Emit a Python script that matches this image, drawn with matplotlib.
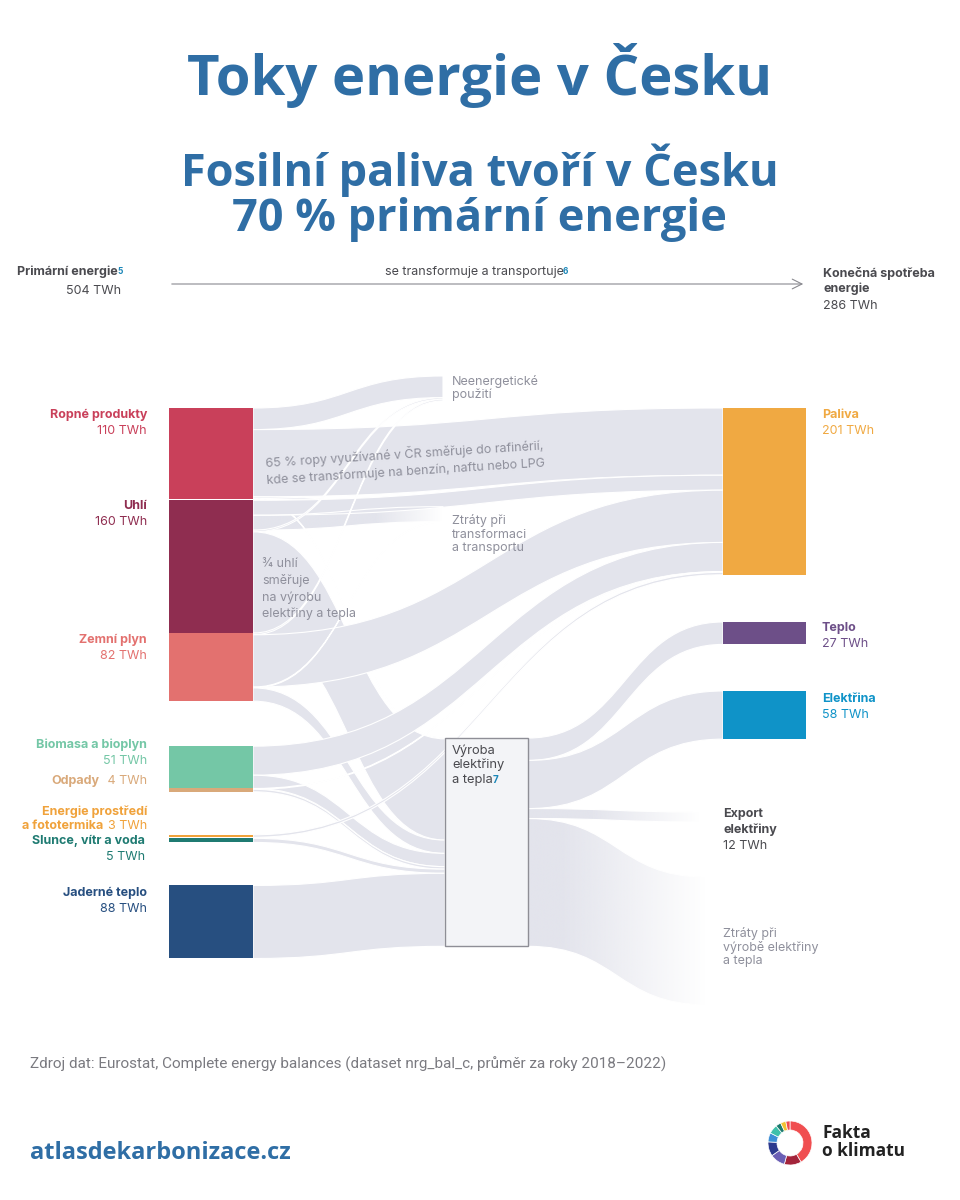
import numpy as np
import matplotlib.pyplot as plt
from matplotlib.path import Path
from matplotlib.patches import PathPatch, Rectangle, Wedge
from matplotlib.colors import to_rgb

# ---- data (TWh, averages 2018-2022) ----
src_keys = ["ropa", "uhli", "plyn", "bio", "odpady", "prostredi", "slunce", "jadro"]
src_twh = [110, 160, 82, 51, 4, 3, 5, 88]
dst_keys = ["paliva", "teplo", "elektrina"]
dst_twh = [201, 27, 58]

link_src = ["ropa", "ropa", "ropa", "ropa",
            "uhli", "uhli", "uhli", "uhli",
            "plyn", "plyn", "plyn", "plyn",
            "bio", "bio", "odpady", "odpady", "prostredi", "slunce", "jadro",
            "vyroba", "vyroba", "vyroba", "vyroba"]
link_dst = ["neen", "paliva", "ztraty_t", "vyroba",
            "paliva", "ztraty_t", "neen", "vyroba",
            "neen", "paliva", "ztraty_t", "vyroba",
            "paliva", "vyroba", "paliva", "vyroba", "paliva", "vyroba", "vyroba",
            "teplo", "elektrina", "export", "ztraty_v"]
link_twh = [26, 81, 2, 1,
            18, 18, 2, 122,
            2, 63, 1, 16,
            35, 16, 1, 3, 3, 5, 88,
            27, 58, 12, 154]

# ---- layout ----
W, H = 960, 1200
K = 0.83                      # px per TWh
BAND = "#e3e4ec"
fig = plt.figure(figsize=(9.6, 12), dpi=100)
ax = fig.add_axes([0, 0, 1, 1])

src_gap = [0, 1, 0, 45, 0, 43, 1, 43]
src_col = ["#c9405a", "#8f2d50", "#e3716f", "#74c7a6", "#d9a97a", "#f0a23b", "#1f7b72", "#274f80"]
dst_col = ["#f0a942", "#6d4f88", "#0f93c8"]

nodes = {}   # key -> [x_left, x_right, y_top]
y = 408
for k, v, g in zip(src_keys, src_twh, src_gap):
    y += g
    nodes[k] = [169, 253, y]
    y += v * K
for k, top in zip(dst_keys, [408, 622, 691]):
    nodes[k] = [723, 806, top]
nodes["neen"] = [443, 443, 376]
nodes["ztraty_t"] = [443, 443, 505]
nodes["vyroba"] = [445, 528, 738]
nodes["export"] = [700, 700, 812]
nodes["ztraty_v"] = [706, 706, 877]

fade = {"ztraty_t": (375, 443), "export": (590, 700), "ztraty_v": (560, 706)}

order = src_keys + ["vyroba"]
out_off = {k: 0.0 for k in nodes}
in_off = {k: 0.0 for k in nodes}
y_src = []
for s, d, v in zip(link_src, link_dst, link_twh):
    y_src.append(nodes[s][2] + out_off[s])
    out_off[s] += v * K
y_dst = [0.0] * len(link_twh)
for i in sorted(range(len(link_twh)), key=lambda i: order.index(link_src[i])):
    d = link_dst[i]
    y_dst[i] = nodes[d][2] + in_off[d]
    in_off[d] += link_twh[i] * K


def band_path(x0, ya, x1, yb, w):
    xm = (x0 + x1) / 2
    verts = [(x0, ya), (xm, ya), (xm, yb), (x1, yb),
             (x1, yb + w), (xm, yb + w), (xm, ya + w), (x0, ya + w), (x0, ya)]
    codes = [Path.MOVETO, Path.CURVE4, Path.CURVE4, Path.CURVE4,
             Path.LINETO, Path.CURVE4, Path.CURVE4, Path.CURVE4, Path.CLOSEPOLY]
    return Path(verts, codes)


rgb = to_rgb(BAND)
for s, d, v, ya, yb in zip(link_src, link_dst, link_twh, y_src, y_dst):
    x0 = nodes[s][1]
    x1 = nodes[d][0]
    w = v * K
    p = band_path(x0, ya, x1, yb, w)
    if d in fade:
        patch = PathPatch(p, facecolor="none", edgecolor="white", lw=0.8, zorder=2)
        ax.add_patch(patch)
        fs, fe = fade[d]
        xs = np.linspace(x0, x1, 300)
        grad = np.ones((2, 300, 4))
        grad[..., :3] = rgb
        grad[..., 3] = np.clip((fe - xs) / (fe - fs), 0, 1)
        ylo, yhi = min(ya, yb) - 2, max(ya, yb) + w + 2
        im = ax.imshow(grad, extent=(x0, x1, yhi, ylo), aspect="auto",
                       interpolation="bilinear", zorder=1.9)
        im.set_clip_path(patch)
    else:
        ax.add_patch(PathPatch(p, facecolor=BAND, edgecolor="white", lw=0.8, zorder=2))

# node bars
for k, v, c in zip(src_keys, src_twh, src_col):
    x0, x1, top = nodes[k]
    ax.add_patch(Rectangle((x0, top), x1 - x0, v * K, facecolor=c, edgecolor="none", zorder=3))
for k, v, c in zip(dst_keys, dst_twh, dst_col):
    x0, x1, top = nodes[k]
    ax.add_patch(Rectangle((x0, top), x1 - x0, v * K, facecolor=c, edgecolor="none", zorder=3))
x0, x1, top = nodes["vyroba"]
ax.add_patch(Rectangle((x0, top), x1 - x0, in_off["vyroba"], facecolor="#f3f4f7",
                       edgecolor="#8e8e96", lw=1.0, zorder=3))

ax.set_xlim(0, W)
ax.set_ylim(H, 0)
ax.axis("off")

# ---- texts ----
FT = "Open Sans"
FB = "Inter"
FS = 9
BLUE = "#2f6ea5"
GREY = "#8f909c"
DARK = "#4a4a4f"

ax.text(480, 75, "Toky energie v Česku", ha="center", va="center", fontsize=40.5,
        fontweight="bold", color=BLUE, family=FT)
ax.text(480, 193, "Fosilní paliva tvoří v Česku\n70 % primární energie", ha="center",
        va="center", fontsize=32.5, fontweight="bold", color=BLUE, family=FT, linespacing=1.0)

r = fig.canvas.get_renderer()
inv = ax.transData.inverted()


def sup(t, s, color="#1a86b8", size=6):
    bb = t.get_window_extent(r)
    x, yy = inv.transform((bb.x1, bb.y1))
    ax.text(x - 0.5, yy + 1, s, fontsize=size, color=color, fontweight="bold",
            family=FB, ha="left", va="top", zorder=5)


def pair_right(x, yy, bold, reg, c):
    tv = ax.text(x, yy, reg, ha="right", va="center", fontsize=FS, color=c, family=FB)
    bb = tv.get_window_extent(r)
    xl = inv.transform((bb.x0, bb.y0))[0]
    ax.text(xl - 4, yy, bold, ha="right", va="center", fontsize=FS, fontweight="bold",
            color=c, family=FB)


t = ax.text(118, 272, "Primární energie", ha="right", va="center", fontsize=FS,
            fontweight="bold", color=DARK, family=FB)
ax.text(121, 291, "504 TWh", ha="right", va="center", fontsize=FS, color=DARK, family=FB)
t2 = ax.text(474, 272, "se transformuje a transportuje", ha="center", va="center",
             fontsize=FS, color=DARK, family=FB)
ax.annotate("", xy=(806, 284), xytext=(169, 284),
            arrowprops=dict(arrowstyle="->,head_length=0.7,head_width=0.35",
                            color="#8a8a90", lw=0.8))
ax.text(823, 281, "Konečná spotřeba\nenergie", ha="left", va="center", fontsize=FS,
        fontweight="bold", color=DARK, family=FB, linespacing=1.35)
ax.text(823, 306, "286 TWh", ha="left", va="center", fontsize=FS, color=DARK, family=FB)
fig.canvas.draw()
sup(t, "5")
sup(t2, "6")

# left labels
LX = 147
lab = [("Ropné produkty", "110 TWh", 415, "#c9405a"),
       ("Uhlí", "160 TWh", 506, "#8f2d50"),
       ("Zemní plyn", "82 TWh", 640, "#e3716f"),
       ("Biomasa a bioplyn", "51 TWh", 745, "#74c7a6"),
       ("Jaderné teplo", "88 TWh", 893, "#274f80")]
for name, val, yy, c in lab:
    ax.text(LX, yy, name, ha="right", va="center", fontsize=FS, fontweight="bold",
            color=c, family=FB)
    ax.text(LX, yy + 16, val, ha="right", va="center", fontsize=FS, color=c, family=FB)

pair_right(LX, 781, "Odpady", " 4 TWh", "#d9a97a")
ax.text(LX, 812, "Energie prostředí", ha="right", va="center", fontsize=FS,
        fontweight="bold", color="#f0a23b", family=FB)
pair_right(LX, 826, "a fototermika", "3 TWh", "#f0a23b")
ax.text(LX - 2, 841, "Slunce, vítr a voda", ha="right", va="center", fontsize=FS,
        fontweight="bold", color="#1f7b72", family=FB)
ax.text(LX - 2, 857, "5 TWh", ha="right", va="center", fontsize=FS, color="#1f7b72", family=FB)

# right labels
RX = 822
for name, val, yy, c in [("Paliva", "201 TWh", 415, "#f0a942"),
                         ("Teplo", "27 TWh", 628, "#6d4f88"),
                         ("Elektřina", "58 TWh", 699, "#0f93c8")]:
    ax.text(RX, yy, name, ha="left", va="center", fontsize=FS, fontweight="bold",
            color=c, family=FB)
    ax.text(RX, yy + 16, val, ha="left", va="center", fontsize=FS, color=c, family=FB)
ax.text(723, 822, "Export\nelektřiny", ha="left", va="center", fontsize=FS,
        fontweight="bold", color=DARK, family=FB, linespacing=1.35)
ax.text(723, 846, "12 TWh", ha="left", va="center", fontsize=FS, color=DARK, family=FB)
ax.text(723, 947, "Ztráty při\nvýrobě elektřiny\na tepla", ha="left", va="center",
        fontsize=FS, color=GREY, family=FB, linespacing=1.12)

# middle annotations
ax.text(452, 388, "Neenergetické\npoužití", ha="left", va="center", fontsize=FS,
        color=GREY, family=FB, linespacing=1.12)
ax.text(452, 534, "Ztráty při\ntransformaci\na transportu", ha="left", va="center",
        fontsize=FS, color=GREY, family=FB, linespacing=1.12)
ax.text(267, 479, "65 % ropy využívané v ČR směřuje do rafinérií,\nkde se transformuje na benzín, naftu nebo LPG",
        ha="left", va="baseline", fontsize=FS, color=GREY, family=FB, rotation=3.6,
        rotation_mode="anchor", linespacing=1.5, zorder=4)
ax.text(262, 589, "¾ uhlí\nsměřuje\nna výrobu\nelektřiny a tepla", ha="left", va="center",
        fontsize=FS, color=GREY, family=FB, linespacing=1.4, zorder=4)
for line, yy in zip(["Výroba", "elektřiny", "a tepla"], [751, 765, 780]):
    t3 = ax.text(452, yy, line, ha="left", va="center", fontsize=FS + 0.3,
                 color=DARK, family=FB, zorder=4)
fig.canvas.draw()
sup(t3, "7", size=7)

# footer
ax.text(30, 1064, "Zdroj dat: Eurostat, Complete energy balances (dataset nrg_bal_c, průměr za roky 2018–2022)",
        ha="left", va="center", fontsize=11, color="#7a7a80", family="Roboto")
ax.text(30, 1153, "atlasdekarbonizace.cz", ha="left", va="center", fontsize=17,
        fontweight="bold", color=BLUE, family=FT)

# logo ring
logo_parts = [150, 45, 40, 38, 24, 24, 14, 14, 11]
logo_cols = ["#f04e50", "#a3243b", "#6b5fb5", "#2c3a8f", "#3d8fd6", "#3fc0aa",
             "#1c7a6e", "#f2c233", "#f04e50"]
a = -90
for p, c in zip(logo_parts, logo_cols):
    ax.add_patch(Wedge((790, 1143), 22, a, a + p, width=9, facecolor=c,
                       edgecolor="white", lw=0.5, zorder=5))
    a += p
ax.text(822, 1142, "Fakta\no klimatu", ha="left", va="center", fontsize=12.5,
        fontweight="bold", color="#222222", family=FT, linespacing=1.05)

ax.set_xlim(0, W)
ax.set_ylim(H, 0)
fig.savefig("out.png", dpi=100, facecolor="white")
